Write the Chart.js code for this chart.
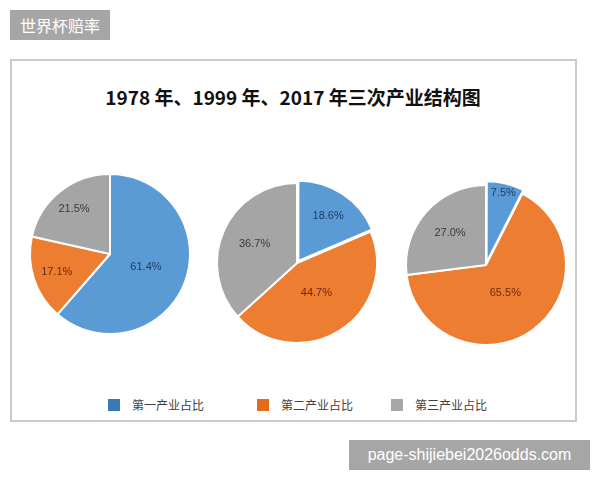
<!DOCTYPE html>
<html lang="zh">
<head>
<meta charset="UTF-8">
<title>三次产业结构图</title>
<script src="https://cdn.jsdelivr.net/npm/chart.js@4/dist/chart.umd.min.js"></script>
<style>
  * { box-sizing: border-box; margin: 0; padding: 0; }
  body { width: 600px; height: 480px; background: #fff; position: relative; overflow: hidden;
         font-family: "Noto Sans CJK SC", "Noto Sans", sans-serif; }
  .tag { position: absolute; background: #a6a6a6; color: #fff; display: flex; align-items: center; justify-content: center; }
  .tag-top { left: 10px; top: 10px; width: 100px; height: 30px; font-size: 16px; }
  .tag-bottom { left: 349px; top: 440px; width: 241px; height: 30px; font-size: 16px; font-family: "Liberation Sans", sans-serif; }
  .frame { position: absolute; left: 10px; top: 59px; width: 567px; height: 363px; border: 2px solid #cbcbcb; }
  .title { position: absolute; left: 0; top: 83px; width: 586px; text-align: center; font-size: 19px; font-weight: bold; color: #111; }
  .pie { position: absolute; }
  .legend { position: absolute; top: 396px; font-size: 12px; color: #404040; display: flex; align-items: center; }
  .legend i { display: inline-block; width: 12px; height: 12px; margin-right: 12px; }
</style>
</head>
<body>
<div class="tag tag-top">世界杯赔率</div>
<div class="frame"></div>
<div class="title">1978 年、1999 年、2017 年三次产业结构图</div>
<canvas id="pie0" class="pie" width="200" height="200" style="left:10px;top:154px"></canvas>
<canvas id="pie1" class="pie" width="200" height="200" style="left:197px;top:163px"></canvas>
<canvas id="pie2" class="pie" width="200" height="200" style="left:386px;top:165px"></canvas>
<div id="legend"></div>
<div class="tag tag-bottom">page-shijiebei2026odds.com</div>

<script>
// data (percent)
const years = ['1978', '1999', '2017'];
const categories = ['第一产业占比', '第二产业占比', '第三产业占比'];
const share1978 = [61.4, 17.1, 21.5];
const share1999 = [18.6, 44.7, 36.7];
const share2017 = [7.5, 65.5, 27.0];

const sliceColors = ['#5b9bd5', '#ed7d31', '#a5a5a5'];
const legendColors = ['#3a78b4', '#e26b1c', '#a6a6a6'];
const labelColors = ['#1f3d66', '#6e2a0c', '#3a3a3a'];

// draw "xx.x%" inside each slice, at a fraction of the radius
const sliceLabels = {
  id: 'sliceLabels',
  afterDatasetsDraw(chart, args, opts) {
    const ctx = chart.ctx;
    const meta = chart.getDatasetMeta(0);
    const values = chart.data.datasets[0].data;
    const spots = opts.spots || [];
    ctx.save();
    ctx.font = '11px "Liberation Sans", sans-serif';
    ctx.textAlign = 'center';
    ctx.textBaseline = 'middle';
    meta.data.forEach((arc, i) => {
      const { x, y, startAngle, endAngle, outerRadius } = arc.getProps(['x', 'y', 'startAngle', 'endAngle', 'outerRadius'], true);
      const mid = (startAngle + endAngle) / 2;
      const off = arc.options.offset || 0;
      const d = off + outerRadius * (spots[i] || 0.58);
      ctx.fillStyle = labelColors[i];
      ctx.fillText(values[i].toFixed(1) + '%', x + Math.cos(mid) * d, y + Math.sin(mid) * d);
    });
    ctx.restore();
  }
};

function makePie(id, values, offsets, spots) {
  return new Chart(document.getElementById(id), {
    type: 'pie',
    data: {
      labels: categories,
      datasets: [{
        data: values,
        backgroundColor: sliceColors,
        borderColor: '#ffffff',
        borderWidth: 2,
        offset: offsets,
      }],
    },
    options: {
      responsive: false,
      animation: false,
      radius: 80,
      layout: { padding: 0 },
      plugins: {
        legend: { display: false },
        tooltip: { enabled: false },
        sliceLabels: { spots },
      },
    },
    plugins: [sliceLabels],
  });
}

makePie('pie0', share1978, [0, 0, 0], [0.48, 0.7, 0.72]);
makePie('pie1', share1999, [10, 0, 0], [0.58, 0.45, 0.58]);
makePie('pie2', share2017, [10, 0, 0], [0.8, 0.42, 0.6]);

// shared legend under the three pies
const legendX = [108, 257, 391];
const legend = document.getElementById('legend');
categories.forEach((name, i) => {
  const item = document.createElement('div');
  item.className = 'legend';
  item.style.left = legendX[i] + 'px';
  item.innerHTML = `<i style="background:${legendColors[i]}"></i><span>${name}</span>`;
  legend.appendChild(item);
});
</script>
</body>
</html>
